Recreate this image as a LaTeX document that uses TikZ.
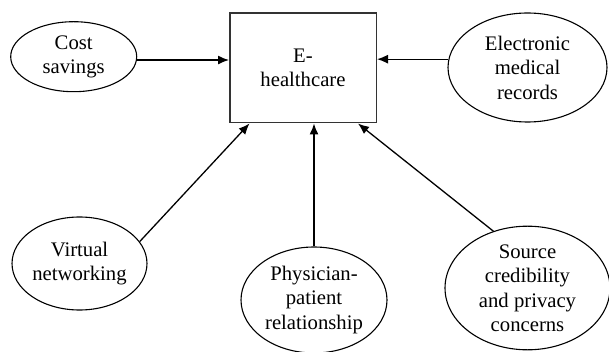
\documentclass[tikz,border=0pt]{standalone}
\usepackage{fontspec}
\setmainfont{Liberation Serif}
\usetikzlibrary{arrows.meta,calc,shapes.geometric}
\begin{document}
\begin{tikzpicture}[x=1pt,y=-1pt,
  lbl/.style={font=\fontsize{20.7}{24.5}\selectfont, align=center, inner sep=0pt},
  oval/.style={lbl, draw, ellipse, line width=1.1pt},
  boxnode/.style={lbl, draw=black!80, line width=1.5pt, minimum width=146.5pt, minimum height=109.5pt},
  arr/.style={line width=1.3pt, -{Latex[length=11pt,width=9pt]}}]
\useasboundingbox (0,0) rectangle (609,352);
\node[boxnode] (box) at (303,68) {E-\\healthcare};
\node[oval, minimum width=126pt, minimum height=70pt] (cost) at (73.7,56.7) {Cost\\savings};
\node[oval, minimum width=159pt, minimum height=109pt] (emr) at (527.5,67.5) {Electronic\\medical\\records};
\node[oval, minimum width=135pt, minimum height=93pt] (virt) at (79.5,263.5) {Virtual\\networking};
\node[oval, minimum width=146pt, minimum height=106pt] (phys) at (314,300) {Physician-\\patient\\relationship};
\node[oval, minimum width=165pt, minimum height=112pt] (src) at (527.5,288) {Source\\credibility\\and privacy\\concerns};
\draw[arr] (cost.357) -- (cost.357 -| box.west);
\draw[arr] (emr.174.6) -- (emr.174.6 -| box.east);
\draw[arr] (virt.20) -- ($(box.south west)+(20.5,0)$);
\draw[arr] (phys.north) -- (phys.north |- box.south);
\draw[arr] (src.121) -- ($(box.south east)+(-19,0)$);
\end{tikzpicture}
\end{document}
